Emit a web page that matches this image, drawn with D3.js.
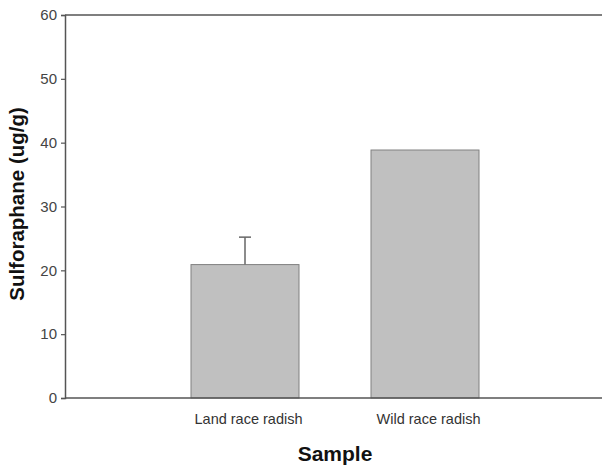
<!DOCTYPE html>
<html><head><meta charset="utf-8">
<script src="https://cdn.jsdelivr.net/npm/d3@7"></script>
<style>body{margin:0;background:#fff}svg{display:block}</style>
</head><body>
<script>
const categories = ["Land race radish", "Wild race radish"];
const values = [20.9, 38.85];
const errors = [4.3, 0];
const yTicks = [0, 10, 20, 30, 40, 50, 60];

const W = 602, H = 465;
const svg = d3.select("body").append("svg").attr("width", W).attr("height", H);
const x = d3.scaleLinear().domain([0, 3]).range([65, 605]);
const y = d3.scaleLinear().domain([0, 60]).range([398, 15]);
const axisColor = "#555";
const font = "Liberation Sans, Arial, sans-serif";

// bars
const bw = x(0.6) - x(0);
svg.selectAll("rect.bar").data(values).join("rect")
  .attr("x", (d, i) => x(i + 1) - bw / 2)
  .attr("y", d => y(d))
  .attr("width", bw)
  .attr("height", d => y(0) - y(d))
  .attr("fill", "#c0c0c0").attr("stroke", "#808080").attr("stroke-width", 1);

// error bars (upper)
values.forEach((v, i) => {
  if (!errors[i]) return;
  const cx = x(i + 1);
  svg.append("line").attr("x1", cx).attr("x2", cx).attr("y1", y(v)).attr("y2", y(v + errors[i]))
    .attr("stroke", "#666").attr("stroke-width", 1.5);
  svg.append("line").attr("x1", cx - 6).attr("x2", cx + 6).attr("y1", y(v + errors[i])).attr("y2", y(v + errors[i]))
    .attr("stroke", "#666").attr("stroke-width", 1.5);
});

// top frame line
svg.append("line").attr("x1", 65).attr("x2", W).attr("y1", y(60)).attr("y2", y(60)).attr("stroke", axisColor).attr("stroke-width", 1.5);

// y axis
const yAxis = svg.append("g").attr("transform", "translate(65,0)")
  .call(d3.axisLeft(y).tickValues(yTicks).tickSize(4).tickPadding(4));
yAxis.select(".domain").attr("stroke", axisColor).attr("stroke-width", 1.5);
yAxis.selectAll(".tick line").attr("stroke", axisColor).attr("stroke-width", 1.2);
yAxis.selectAll(".tick text").attr("fill", "#444").attr("font-family", font).attr("font-size", 15);

// x axis
const xAxis = svg.append("g").attr("transform", "translate(0,398)")
  .call(d3.axisBottom(x).tickValues([1, 2]).tickFormat((d) => categories[d - 1]).tickSize(0).tickPadding(16));
xAxis.select(".domain").attr("d", `M65,0H${W}`).attr("stroke", axisColor).attr("stroke-width", 1.5);
xAxis.selectAll(".tick text").attr("fill", "#333").attr("font-family", font).attr("font-size", 14.5).attr("dx", 3);

// titles
svg.append("text").attr("x", 335).attr("y", 461).attr("text-anchor", "middle")
  .attr("font-family", font).attr("font-weight", "bold").attr("font-size", 21).attr("fill", "#111")
  .text("Sample");
svg.append("text").attr("transform", "translate(24,204) rotate(-90)").attr("text-anchor", "middle")
  .attr("font-family", font).attr("font-weight", "bold").attr("font-size", 20.5).attr("fill", "#111")
  .text("Sulforaphane (ug/g)");
</script>
</body></html>
